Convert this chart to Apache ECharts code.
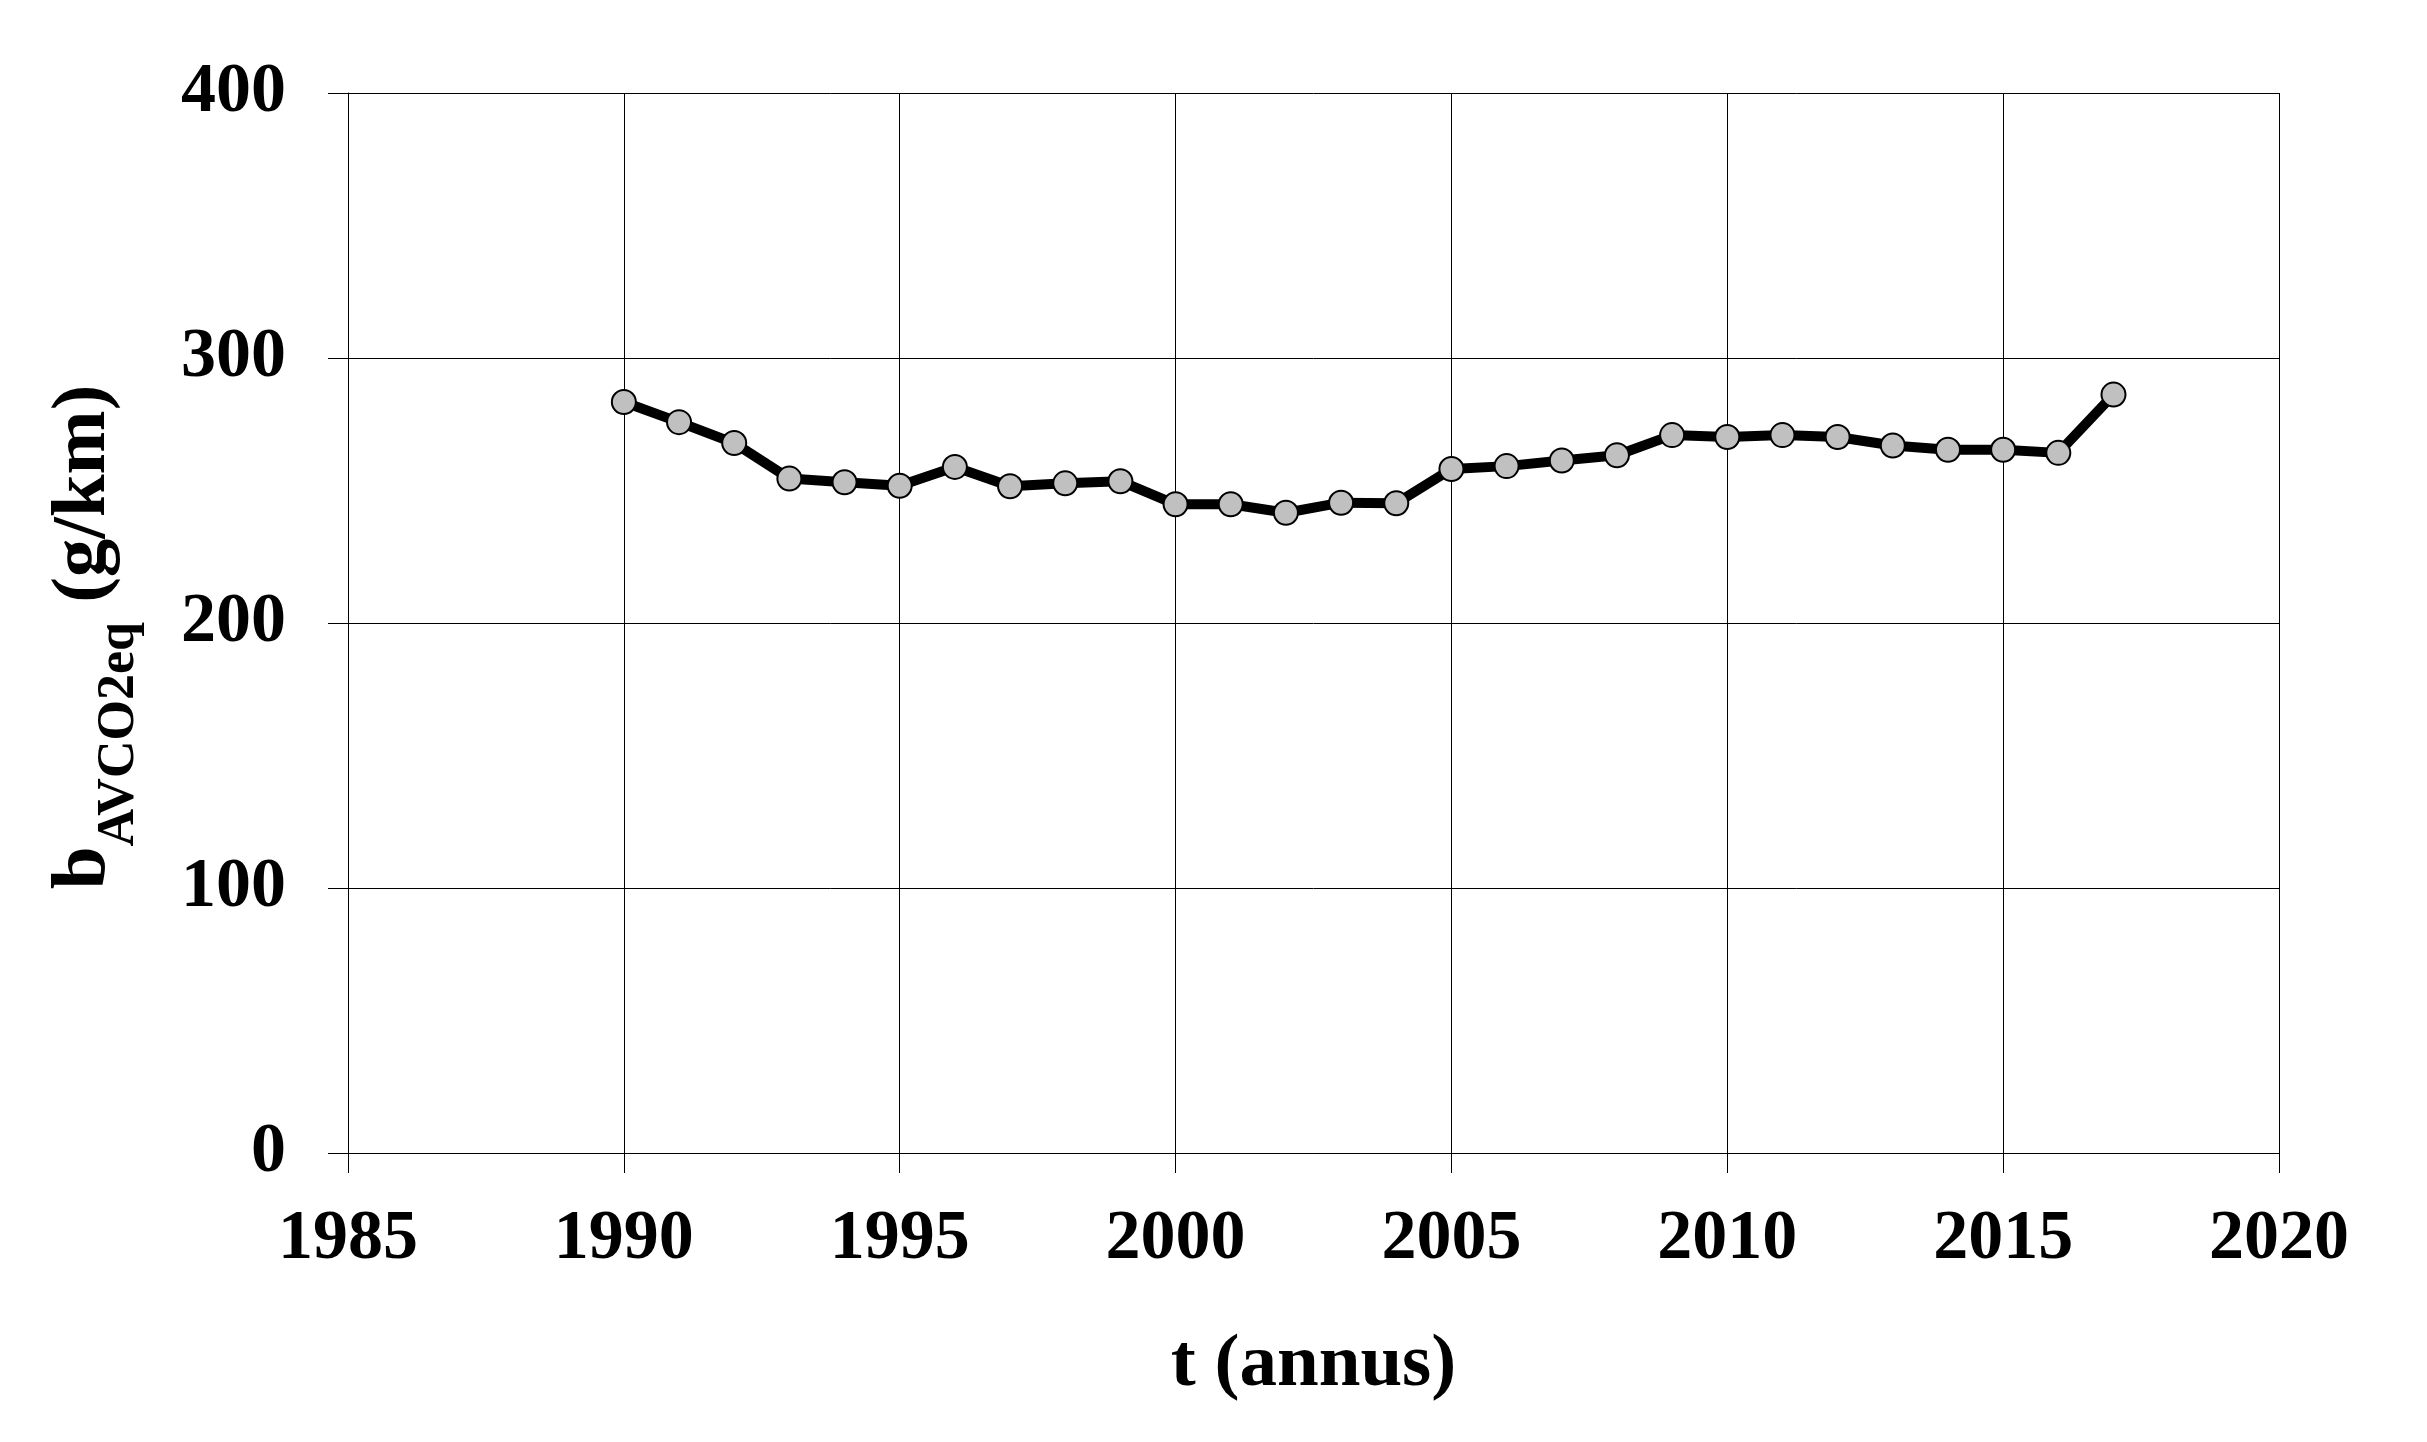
<!DOCTYPE html>
<html>
<head>
<meta charset="utf-8">
<script src="https://cdn.jsdelivr.net/npm/echarts@6/dist/echarts.min.js"></script>
<style>
html,body{margin:0;padding:0;background:#fff;}
#chart{width:2427px;height:1442px;}
</style>
</head>
<body>
<div id="chart"></div>
<script>
const years = [1990,1991,1992,1993,1994,1995,1996,1997,1998,1999,2000,2001,2002,2003,2004,2005,2006,2007,2008,2009,2010,2011,2012,2013,2014,2015,2016,2017];
const values = [283.4,275.8,267.9,254.5,253.1,251.8,258.9,251.6,252.7,253.5,244.8,244.8,241.6,245.4,245.2,258.1,259.2,261.3,263.3,270.9,270.2,270.9,270.2,267.0,265.4,265.4,264.2,286.2];
const xTicks = {min:1985, max:2020, interval:5};
const yTicks = {min:0, max:400, interval:100};
const xTitle = 't (annus)';
const yTitleMain = 'b';
const yTitleSub = 'AVCO2eq';
const yTitleUnit = ' (g/km)';

const FONT = "'Times New Roman','Liberation Serif',serif";
const chart = echarts.init(document.getElementById('chart'));
const axisCommon = {
  axisLine:{show:true, onZero:false, lineStyle:{color:'#000', width:1}},
  axisTick:{show:true, inside:false, length:20, lineStyle:{color:'#000', width:1}},
  splitLine:{show:true, lineStyle:{color:'#000', width:1}},
};
chart.setOption({
  animation:false,
  backgroundColor:'#fff',
  grid:{left:348, right:148, top:93, bottom:289, containLabel:false},
  xAxis:Object.assign({
    type:'value', min:xTicks.min, max:xTicks.max, interval:xTicks.interval,
    axisLabel:{margin:52, color:'#000', fontFamily:FONT, fontWeight:'bold', fontSize:70, formatter:v=>String(v)},
    name:xTitle, nameLocation:'middle', nameGap:175,
    nameTextStyle:{color:'#000', fontFamily:FONT, fontWeight:'bold', fontSize:75}
  }, axisCommon),
  yAxis:Object.assign({
    type:'value', min:yTicks.min, max:yTicks.max, interval:yTicks.interval,
    axisLabel:{margin:62, color:'#000', fontFamily:FONT, fontWeight:'bold', fontSize:70},
    name:'{m|'+yTitleMain+'}{s|'+yTitleSub+'}{m|'+yTitleUnit+'}',
    nameLocation:'middle', nameRotate:90, nameGap:202,
    nameTextStyle:{
      color:'#000', fontFamily:FONT, fontWeight:'bold', fontSize:77,
      padding:[0,28,0,0],
      rich:{
        m:{fontFamily:FONT, fontWeight:'bold', fontSize:77, lineHeight:80, verticalAlign:'top', color:'#000'},
        s:{fontFamily:FONT, fontWeight:'bold', fontSize:52, lineHeight:100, verticalAlign:'bottom', color:'#000'}
      }
    }
  }, axisCommon),
  series:[{
    type:'line',
    data:years.map((y,i)=>[y, values[i]]),
    lineStyle:{color:'#000', width:10},
    symbol:'circle', symbolSize:24,
    itemStyle:{color:'#c0c0c0', borderColor:'#000', borderWidth:2},
    z:5
  }]
});
</script>
</body>
</html>
